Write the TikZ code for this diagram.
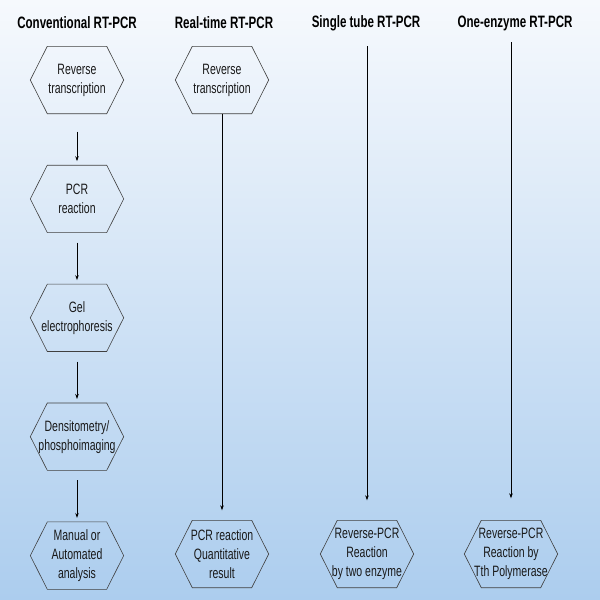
\documentclass[tikz,border=0pt]{standalone}
\usepackage{fontspec}
\setmainfont{Liberation Sans}[FakeStretch=0.7]
\usetikzlibrary{positioning,arrows.meta}
\definecolor{skytop}{RGB}{246,249,253}
\definecolor{skybottom}{RGB}{172,205,238}
\tikzstyle{columntitle} = [
    font=\bfseries\fontsize{16.5}{18}\selectfont,
    text=black,
    inner sep=0pt
]

\begin{document}
\begin{tikzpicture}[x=1pt, y=-1pt,
        hexbox/.style={
            rectangle, minimum width=93pt, minimum height=67pt,
            inner sep=0pt, align=center, text=black!90,
            font=\fontsize{15}{19}\selectfont
        },
        hexline/.style={draw=black!75, line width=0.6pt, line join=miter},
        flow/.style={-{Stealth[length=5pt,width=3.5pt]}, line width=0.7pt}
    ]
        % background
        \shade[top color=skytop, bottom color=skybottom] (0,0) rectangle (600,600);
        \useasboundingbox (0,0) rectangle (600,600);

        % column titles
        \node[columntitle] (head-conv) at (77,23) {Conventional RT-PCR};
        \node[columntitle] (head-real) at (224,23) {Real-time RT-PCR};
        \node[columntitle] (head-single) at (366,23) {Single tube RT-PCR};
        \node[columntitle] (head-one) at (515,23) {One-enzyme RT-PCR};

        % conventional
        \node[hexbox] (conv1) at (77,80) {Reverse\\transcription};
        \node[hexbox] (conv2) [below = 51.5pt of conv1] {PCR\\reaction};
        \node[hexbox] (conv3) [below = 51.5pt of conv2] {Gel\\electrophoresis};
        \node[hexbox] (conv4) [below = 51.5pt of conv3] {Densitometry/\\phosphoimaging};
        \node[hexbox] (conv5) [below = 51.5pt of conv4] {Manual or\\Automated\\analysis};

        % real-time
        \node[hexbox] (real1) at (222,80) {Reverse\\transcription};
        \node[hexbox] (real2) at (222,554) {PCR reaction\\Quantitative\\result};

        % single tube and one-enzyme
        \coordinate (single0) at (367,46);
        \node[hexbox] (single1) at (367,554) {Reverse-PCR\\Reaction\\by two enzyme};
        \coordinate (one0) at (511,42);
        \node[hexbox] (one1) at (511,554) {Reverse-PCR\\Reaction by\\Tth Polymerase};

        % hexagon outlines
        \foreach \hex in {conv1,conv2,conv3,conv4,conv5,real1,real2,single1,one1}
            \draw[hexline] (\hex.west) -- ([xshift=17pt]\hex.north west)
                -- ([xshift=-17pt]\hex.north east) -- (\hex.east)
                -- ([xshift=-17pt]\hex.south east)
                -- ([xshift=17pt]\hex.south west) -- cycle;

        \draw[flow, shorten <=18pt, shorten >=4pt] (conv1) -- (conv2);
        \draw[flow, shorten <=10pt, shorten >=4pt] (conv2) -- (conv3);
        \draw[flow, shorten <=10pt, shorten >=4pt] (conv3) -- (conv4);
        \draw[flow, shorten <=10pt, shorten >=4pt] (conv4) -- (conv5);
        \draw[flow, shorten >=10pt] (real1) -- (real2);
        \draw[flow, shorten >=20pt] (single0) -- (single1);
        \draw[flow, shorten >=22pt] (one0) -- (one1);
    \end{tikzpicture}
\end{document}
